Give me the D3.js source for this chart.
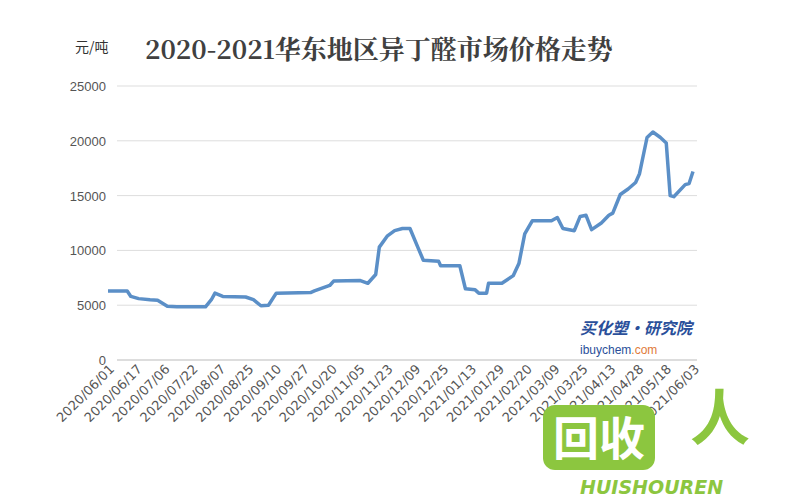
<!DOCTYPE html><html><head><meta charset="utf-8"><script src="https://cdn.jsdelivr.net/npm/d3@7"></script>
<style>body{margin:0;background:#fff}</style></head><body><svg width="800" height="500"></svg><script>
const labels=["2020/06/01","2020/06/17","2020/07/06","2020/07/22","2020/08/07","2020/08/25","2020/09/10","2020/09/27","2020/10/20","2020/11/05","2020/11/23","2020/12/09","2020/12/25","2021/01/13","2021/01/29","2021/02/20","2021/03/09","2021/03/25","2021/04/13","2021/04/28","2021/05/18","2021/06/03"];
const positions=[0,0.69,0.82,1.10,1.51,1.78,2.13,2.47,3.50,3.71,3.84,4.12,4.94,5.22,5.49,5.76,6.04,7.27,7.41,7.96,8.10,9.06,9.33,9.61,9.74,10.02,10.29,10.57,10.84,11.12,11.32,11.87,11.94,12.63,12.83,13.18,13.31,13.59,13.66,14.14,14.55,14.75,14.96,15.23,15.92,16.13,16.33,16.74,16.95,17.16,17.36,17.71,17.98,18.12,18.39,18.67,18.94,19.08,19.35,19.56,19.83,20.04,20.18,20.31,20.72,20.86,21.0];
const prices=[6300,6300,5800,5600,5500,5450,4900,4850,4850,5500,6100,5800,5750,5500,4950,5000,6100,6150,6300,6800,7200,7250,7000,7800,10300,11300,11800,12000,12000,10300,9100,9000,8600,8600,6500,6400,6100,6100,7000,7000,7700,8800,11500,12700,12700,13000,12000,11800,13100,13200,11900,12500,13200,13400,15100,15600,16200,17000,20300,20800,20300,19800,15000,14900,16000,16100,17200];
const yTicks=[0,5000,10000,15000,20000,25000];
const svg=d3.select("svg");
const x=d3.scaleLinear().domain([0,labels.length-1]).range([108,693]);
const y=d3.scaleLinear().domain([0,25000]).range([360,86]);
svg.append("g").selectAll("line").data(yTicks).join("line").attr("x1",117).attr("x2",697).attr("y1",d=>y(d)).attr("y2",d=>y(d)).attr("stroke",d=>d===0?"#bbb":"#ddd").attr("stroke-width",1);
svg.append("g").selectAll("text").data(yTicks).join("text").attr("x",106).attr("y",d=>y(d)+5).attr("text-anchor","end").attr("font-family","Liberation Sans, Arial").attr("font-size",13).attr("fill","#555").text(d=>d);
svg.append("g").selectAll("text").data(labels).join("text").attr("transform",(d,i)=>`translate(${x(i)+7},${370}) rotate(-45)`).attr("text-anchor","end").attr("font-family","DejaVu Sans").attr("font-size",13).attr("fill","#555").text(d=>d);
svg.append("path").datum(positions.map((p,i)=>[p,prices[i]])).attr("fill","none").attr("stroke","#5b8fc7").attr("stroke-width",3.5).attr("stroke-linejoin","round").attr("d",d3.line().x(d=>x(d[0])).y(d=>y(d[1])));
svg.append("text").attr("x",75).attr("y",52).attr("font-family","Noto Sans CJK SC").attr("font-size",14).attr("fill","#333").text("元/吨");
svg.append("text").attr("x",145).attr("y",59).attr("font-family","Noto Serif CJK SC, Noto Sans CJK SC").attr("font-weight","bold").attr("font-size",26).attr("fill","#404040").text("2020-2021华东地区异丁醛市场价格走势");
svg.append("text").attr("x",580).attr("y",334).attr("font-family","Noto Sans CJK SC").attr("font-weight","bold").attr("font-style","italic").attr("font-size",16).attr("fill","#2a4f9a").text("买化塑·研究院");
svg.append("text").attr("x",580).attr("y",354).attr("font-family","Liberation Sans").attr("font-size",12).attr("fill","#2a4f9a").html('ibuychem<tspan fill="#e07a3a">.com</tspan>');
svg.append("rect").attr("x",543).attr("y",405).attr("width",112).attr("height",65).attr("rx",12).attr("fill","#8cc63f");
svg.append("text").attr("x",599).attr("y",455).attr("text-anchor","middle").attr("font-family","Noto Sans CJK SC").attr("font-weight","bold").attr("font-size",46).attr("fill","#fff").text("回收");
svg.append("text").attr("x",720).attr("y",440).attr("text-anchor","middle").attr("font-family","Noto Sans CJK SC").attr("font-weight","bold").attr("font-size",60).attr("fill","#8cc63f").text("人");
svg.append("text").attr("x",580).attr("y",494).attr("font-family","DejaVu Sans").attr("font-weight","bold").attr("font-style","italic").attr("font-size",19).attr("fill","#8cc63f").text("HUISHOUREN");
</script></body></html>
